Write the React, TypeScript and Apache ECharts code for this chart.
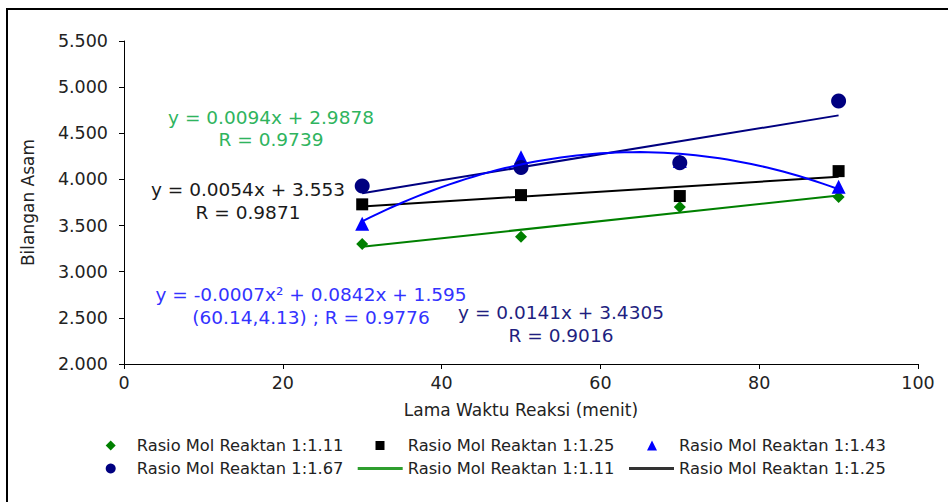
import React, { useEffect, useRef } from "react";
import * as echarts from "echarts";

// ---- data ----
const times = [30, 50, 70, 90];
const ratio111 = [3.3, 3.38, 3.7, 3.81];
const ratio125 = [3.73, 3.83, 3.82, 4.09];
const ratio143 = [3.52, 4.24, 4.2, 3.92];
const ratio167 = [3.93, 4.13, 4.18, 4.85];

const name111 = "Rasio Mol Reaktan 1:1.11";
const name125 = "Rasio Mol Reaktan 1:1.25";
const name143 = "Rasio Mol Reaktan 1:1.43";
const name167 = "Rasio Mol Reaktan 1:1.67";
const trend111 = "Linear 1:1.11";
const trend125 = "Linear 1:1.25";
const trend143 = "Poly 1:1.43";
const trend167 = "Linear 1:1.67";

const legendLabels: Record<string, string> = {
  [name111]: name111,
  [name125]: name125,
  [name143]: name143,
  [name167]: name167,
  [trend111]: name111,
  [trend125]: name125,
};

const eqGreen = ["y = 0.0094x + 2.9878", "R = 0.9739"];
const eqBlack = ["y = 0.0054x + 3.553", "R = 0.9871"];
const eqBlue = ["y = -0.0007x\u00B2 + 0.0842x + 1.595", "(60.14,4.13) ; R = 0.9776"];
const eqNavy = ["y = 0.0141x + 3.4305", "R = 0.9016"];

const xAxisTitle = "Lama Waktu Reaksi (menit)";
const yAxisTitle = "Bilangan Asam";

const FONT = '"DejaVu Sans", Verdana, sans-serif';

// least-squares polynomial fit (trendline, as the spreadsheet does)
function polyfit(xs: number[], ys: number[], deg: number): number[] {
  const n = deg + 1;
  const A: number[][] = [];
  for (let r = 0; r < n; r++) {
    const row: number[] = [];
    for (let c = 0; c < n; c++) {
      let s = 0;
      for (let i = 0; i < xs.length; i++) s += Math.pow(xs[i], r + c);
      row.push(s);
    }
    let b = 0;
    for (let i = 0; i < xs.length; i++) b += ys[i] * Math.pow(xs[i], r);
    row.push(b);
    A.push(row);
  }
  for (let p = 0; p < n; p++) {
    let best = p;
    for (let r = p + 1; r < n; r++) if (Math.abs(A[r][p]) > Math.abs(A[best][p])) best = r;
    [A[p], A[best]] = [A[best], A[p]];
    for (let r = 0; r < n; r++) {
      if (r === p) continue;
      const f = A[r][p] / A[p][p];
      for (let c = p; c <= n; c++) A[r][c] -= f * A[p][c];
    }
  }
  return A.map((row, i) => row[n] / row[i]);
}

function evalPoly(coef: number[], x: number) {
  return coef.reduce((s, c, i) => s + c * Math.pow(x, i), 0);
}

function trendPoints(ys: number[], deg: number): number[][] {
  const coef = polyfit(times, ys, deg);
  const x0 = times[0];
  const x1 = times[times.length - 1];
  if (deg === 1) return [[x0, evalPoly(coef, x0)], [x1, evalPoly(coef, x1)]];
  const pts: number[][] = [];
  for (let x = x0; x <= x1; x += 1) pts.push([x, evalPoly(coef, x)]);
  return pts;
}

const zip = (ys: number[]) => times.map((t, i) => [t, ys[i]]);

export default function App() {
  const ref = useRef<HTMLDivElement>(null);

  useEffect(() => {
    document.body.style.margin = "0";
    if (!ref.current) return;
    const chart = echarts.init(ref.current, undefined, { renderer: "svg" });

    const eqText = (lines: string[], cx: number, cy: number[], color: string) =>
      lines.map((t, i) => ({
        type: "text",
        x: cx,
        y: cy[i],
        silent: true,
        style: {
          text: t,
          fill: color,
          fontSize: 18.5,
          fontFamily: FONT,
          textAlign: "center",
          textVerticalAlign: "middle",
          verticalAlign: "middle",
        },
      }));

    // legend item: icon centred at iconX, text starting at textX, row centre rowY
    const symLegend = (name: string, icon: string, size: number, iconX: number, textX: number, rowY: number) => ({
      orient: "horizontal",
      data: [{ name, icon }],
      left: iconX - size / 2,
      top: rowY - 10,
      height: 20,
      itemWidth: size,
      itemHeight: size,
      itemGap: 0,
      padding: 0,
      selectedMode: false,
      formatter: (n: string) => legendLabels[n] || n,
      textStyle: {
        fontSize: 16.3,
        fontFamily: FONT,
        color: "#222",
        padding: [0, 0, 0, textX - (iconX + size / 2) - 5],
      },
    });
    const lineLegend = (name: string, textX: number, rowY: number) => ({
      orient: "horizontal",
      data: [{ name, icon: "rect" }],
      left: textX - 50,
      top: rowY - 10,
      height: 20,
      itemWidth: 45,
      itemHeight: 3,
      itemGap: 0,
      padding: 0,
      selectedMode: false,
      formatter: (n: string) => legendLabels[n] || n,
      textStyle: { fontSize: 16.3, fontFamily: FONT, color: "#222" },
    });
    const r1 = 447.5;
    const r2 = 470.5;

    chart.setOption({
      animation: false,
      backgroundColor: "#fff",
      grid: { left: 124, right: 30, top: 41, bottom: 138, containLabel: false },
      xAxis: {
        type: "value",
        min: 0,
        max: 100,
        interval: 20,
        name: xAxisTitle,
        nameLocation: "middle",
        nameGap: 37,
        nameTextStyle: { fontSize: 17, fontFamily: FONT, color: "#222" },
        axisLine: { show: true, onZero: false, lineStyle: { color: "#000", width: 1 } },
        axisTick: { show: true, length: 5, lineStyle: { color: "#000" } },
        axisLabel: { fontSize: 17.5, fontFamily: FONT, color: "#222", margin: 10 },
        splitLine: { show: false },
      },
      yAxis: {
        type: "value",
        min: 2,
        max: 5.5,
        interval: 0.5,
        name: yAxisTitle,
        nameLocation: "middle",
        nameRotate: 90,
        nameGap: 88,
        nameTextStyle: { fontSize: 17, fontFamily: FONT, color: "#222" },
        axisLine: { show: true, onZero: false, lineStyle: { color: "#000", width: 1 } },
        axisTick: { show: true, length: 5, lineStyle: { color: "#000" } },
        axisLabel: {
          fontSize: 17.5,
          fontFamily: FONT,
          color: "#222",
          margin: 16,
          formatter: (v: number) => v.toFixed(3),
        },
        splitLine: { show: false },
      },
      legend: [
        symLegend(name111, "diamond", 10, 110.7, 136.7, r1),
        symLegend(name125, "rect", 9, 380, 407.7, r1),
        symLegend(name143, "triangle", 10, 652, 679, r1),
        symLegend(name167, "circle", 10, 110.7, 136.7, r2),
        lineLegend(trend111, 407.7, r2),
        lineLegend(trend125, 679, r2),
      ],
      series: [
        {
          name: name111,
          type: "scatter",
          symbol: "diamond",
          symbolSize: 12,
          itemStyle: { color: "#008000", opacity: 1 },
          data: zip(ratio111),
          z: 3,
        },
        {
          name: name125,
          type: "scatter",
          symbol: "rect",
          symbolSize: 12,
          itemStyle: { color: "#000000", opacity: 1 },
          data: zip(ratio125),
          z: 3,
        },
        {
          name: name143,
          type: "scatter",
          symbol: "triangle",
          symbolSize: 14,
          itemStyle: { color: "#0000ff", opacity: 1 },
          data: zip(ratio143),
          z: 3,
        },
        {
          name: name167,
          type: "scatter",
          symbol: "circle",
          symbolSize: 15,
          itemStyle: { color: "#000080", opacity: 1 },
          data: zip(ratio167),
          z: 3,
        },
        {
          name: trend111,
          type: "line",
          symbol: "none",
          silent: true,
          lineStyle: { color: "#008000", width: 2 },
          itemStyle: { color: "#2e9e2e" },
          data: trendPoints(ratio111, 1),
          z: 4,
        },
        {
          name: trend125,
          type: "line",
          symbol: "none",
          silent: true,
          lineStyle: { color: "#000000", width: 2 },
          itemStyle: { color: "#333333" },
          data: trendPoints(ratio125, 1),
          z: 4,
        },
        {
          name: trend167,
          type: "line",
          symbol: "none",
          silent: true,
          lineStyle: { color: "#000080", width: 2 },
          itemStyle: { color: "#000080" },
          data: trendPoints(ratio167, 1),
          z: 4,
        },
        {
          name: trend143,
          type: "line",
          symbol: "none",
          silent: true,
          lineStyle: { color: "#0000ff", width: 2 },
          itemStyle: { color: "#0000ff" },
          data: trendPoints(ratio143, 2),
          z: 4,
        },
      ],
      graphic: [
        {
          type: "rect",
          silent: true,
          shape: { x: 7, y: 9, width: 1000, height: 600 },
          style: { fill: "none", stroke: "#000", lineWidth: 2 },
        },
        ...eqText(eqGreen, 271, [117, 139], "#2fb45e"),
        ...eqText(eqBlack, 248, [189, 212], "#1a1a1a"),
        ...eqText(eqBlue, 311, [294, 317], "#3333ff"),
        ...eqText(eqNavy, 561, [312, 335], "#1f1f80"),
      ],
    });

    return () => chart.dispose();
  }, []);

  return <div ref={ref} style={{ width: 948, height: 502 }} />;
}
